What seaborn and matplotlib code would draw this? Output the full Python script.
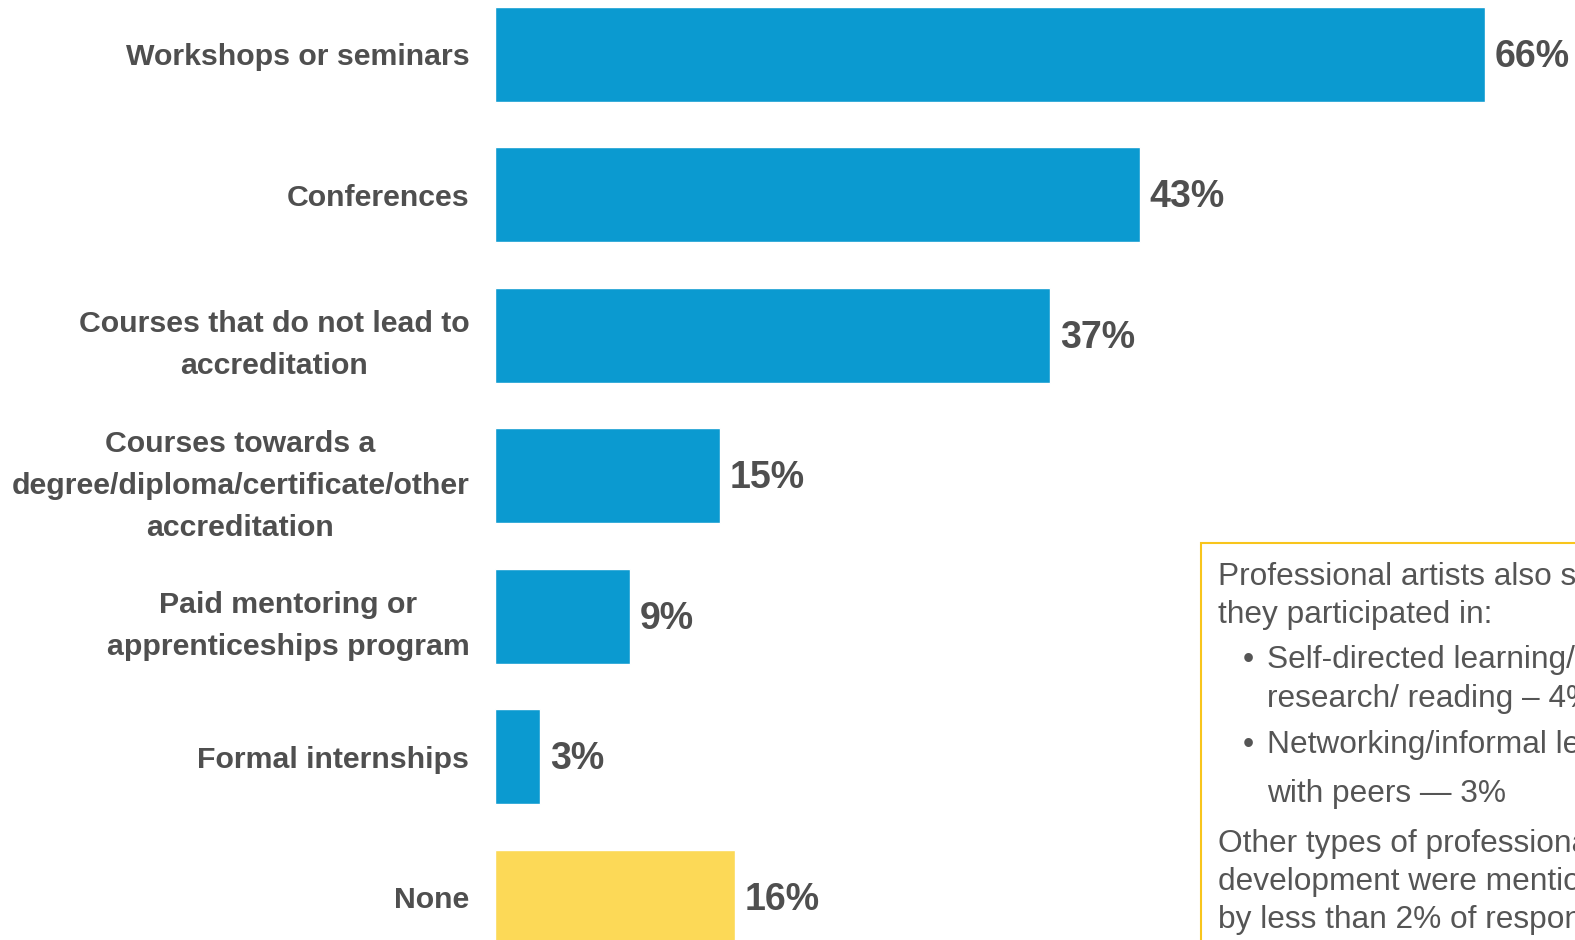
import matplotlib
matplotlib.use("Agg")
import matplotlib.pyplot as plt
from matplotlib.patches import Rectangle
import seaborn as sns
import pandas as pd

categories = [
    "Workshops or seminars",
    "Conferences",
    "Courses that do not lead to\naccreditation",
    "Courses towards a\ndegree/diploma/certificate/other\naccreditation",
    "Paid mentoring or\napprenticeships program",
    "Formal internships",
    "None",
]
values = [66, 43, 37, 15, 9, 3, 16]
bar_colors = ["#0B9AD0"] * 6 + ["#FCD957"]

note_lines = [
    ("Professional artists also said", False),
    ("they participated in:", False),
    ("Self-directed learning/", True),
    ("research/ reading \u2013 4%", None),
    ("Networking/informal learning", True),
    ("with peers \u2014 3%", None),
    ("Other types of professional", False),
    ("development were mentioned", False),
    ("by less than 2% of respondents", False),
]

sns.set_theme(style="white")
plt.rcParams["font.family"] = ["Liberation Sans", "DejaVu Sans"]

W, H = 1575, 940
fig = plt.figure(figsize=(W / 100, H / 100), dpi=100)
ax = fig.add_axes([495 / W, 0, (W - 495) / W, 1])

df = pd.DataFrame({"category": categories, "value": values})
sns.barplot(
    data=df, x="value", y="category", hue="category",
    palette=bar_colors, legend=False, width=0.676,
    saturation=1, ax=ax, orient="h",
)

ax.set_xlim(0, 72)
ax.set_ylim(6.305, -0.386)
ax.set_xlabel("")
ax.set_ylabel("")
ax.set_xticks([])
for s in ax.spines.values():
    s.set_visible(False)

text_color = "#4F4F4F"
ax.tick_params(axis="y", length=0, pad=18.5)
for lab in ax.get_yticklabels():
    lab.set_fontsize(21.8)
    lab.set_fontweight("bold")
    lab.set_color(text_color)
    lab.set_multialignment("center")
    lab.set_linespacing(1.64)

for i, v in enumerate(values):
    ax.annotate(
        f"{v}%", xy=(v, i), xytext=(7, -9), textcoords="offset points",
        ha="left", va="baseline", fontsize=27, fontweight="bold",
        color=text_color, annotation_clip=False,
    )

# note box in the lower right corner
box = Rectangle((1201 / W, 1 - 1000 / H), 600 / W, (1000 - 543) / H,
                transform=fig.transFigure, fill=False,
                edgecolor="#F8C51C", linewidth=1.5, clip_on=False)
fig.add_artist(box)

baselines = [585, 622.6, 668, 706.7, 752.7, 801.7, 851.7, 890, 928]
note_color = "#555555"
for (txt, kind), yb in zip(note_lines, baselines):
    x = 1218 if kind is False else 1267
    fig.text(x / W, 1 - yb / H, txt, ha="left", va="baseline",
             fontsize=22.8, color=note_color)
    if kind is True:
        fig.text(1248 / W, 1 - yb / H, "\u2022", ha="center", va="baseline",
                 fontsize=22.8, color=note_color)

fig.savefig("out.png", dpi=100)
